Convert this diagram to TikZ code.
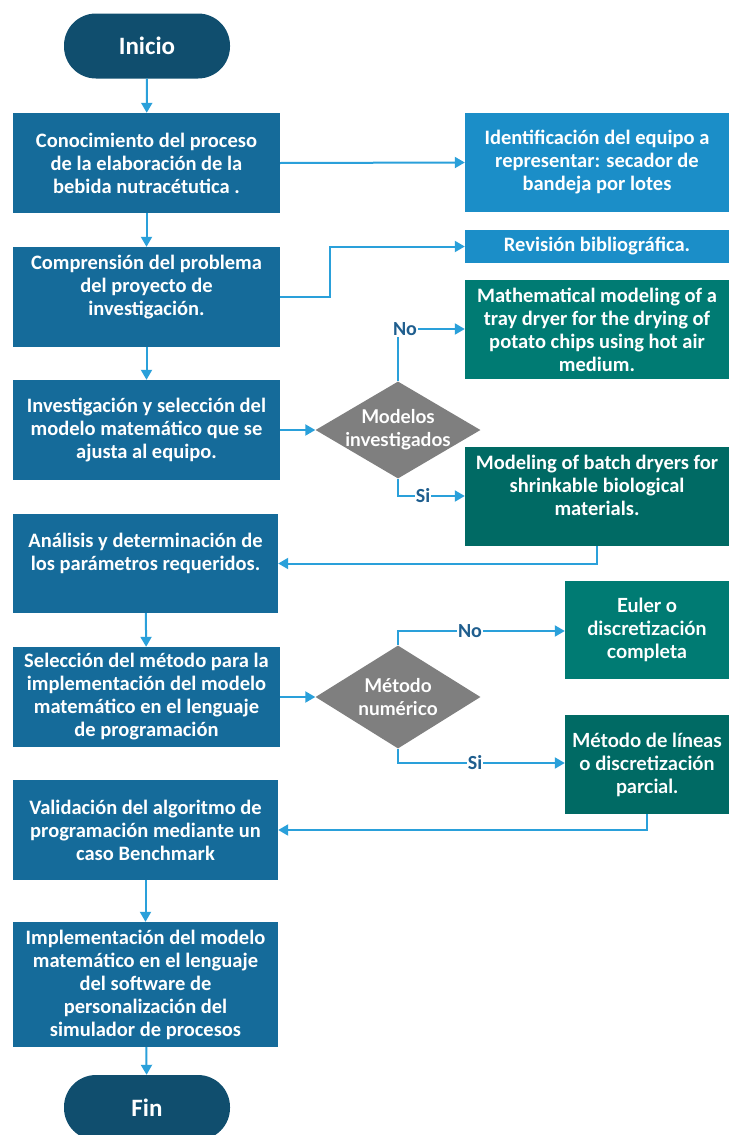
\documentclass[tikz,border=0pt]{standalone}
\usepackage{fontspec}
\setmainfont{Carlito}
\newfontfamily\segoe{Lato}
\usetikzlibrary{shapes.geometric,arrows.meta}
\definecolor{boxblue}{HTML}{156B9A}
\definecolor{endblue}{HTML}{104E6E}
\definecolor{lightblue}{HTML}{1B8EC8}
\definecolor{tealA}{HTML}{007B73}
\definecolor{tealB}{HTML}{006A64}
\definecolor{linkblue}{HTML}{2AA0DA}
\definecolor{lblblue}{HTML}{1F5E8E}
\definecolor{decgray}{HTML}{7F7F7F}
\newcommand{\zw}[1]{\makebox[0pt]{#1}}

\begin{document}
\begin{tikzpicture}[x=1pt, y=-1pt,
    term/.style={rectangle, rounded corners=32pt, fill=endblue, text=white,
      font=\bfseries\fontsize{25}{27}\selectfont, minimum width=166pt, minimum height=65pt, inner sep=0pt},
    proc/.style={rectangle, fill=boxblue, text=white, align=center,
      font=\bfseries\fontsize{20.5}{23}\selectfont, minimum width=267pt, minimum height=100pt, inner sep=0pt},
    side/.style={proc, minimum width=264pt, minimum height=99pt},
    decision/.style={diamond, aspect=1.7, fill=decgray, text=white, align=center,
      font=\segoe\bfseries\fontsize{19}{23}\selectfont, minimum width=165pt, minimum height=97pt, inner sep=0pt},
    answer/.style={text=lblblue, font=\bfseries\fontsize{20}{22}\selectfont, inner sep=1pt},
    line/.style={draw=linkblue, line width=2pt},
    link/.style={line, -{Triangle[length=10pt, width=11pt]}}]
    \useasboundingbox (0,0) rectangle (729,1135);

    \node (start) at (147, 46) [term] {Inicio};
    \node (conoc) at (146.5, 163) [proc] {Conocimiento del proceso\\de la elaboración de la\\bebida nutracétutica .};
    \node (ident) at (597, 162.5) [side, fill=lightblue] {Identificación del equipo a\\representar: secador de\\bandeja por lotes};
    \node (compr) at (146.5, 297) [proc] {Comprensión del problema\\del proyecto de\\investigación.\\\mbox{}};
    \node (revis) at (597, 246.5) [side, fill=lightblue, minimum height=33pt] {Revisión bibliográfica.};
    \node (matem) at (597, 329.5) [side, fill=tealA] {Mathematical modeling of a\\tray dryer for the drying of\\potato chips using hot air\\medium.};
    \node (invest) at (146.5, 430) [proc] {Investigación y selección del\\modelo matemático que se\\ajusta al equipo.};
    \node (modelos) at (398, 430) [decision] {\zw{Modelos}\\\zw{investigados}};
    \node (batch) at (597, 496.5) [side, fill=tealB] {Modeling of batch dryers for\\shrinkable biological\\materials.\\\mbox{}};
    \node (anal) at (145.5, 563.5) [proc, minimum width=265pt, minimum height=99pt] {Análisis y determinación de\\los parámetros requeridos.\\\mbox{}};
    \node (selec) at (146.5, 697) [proc] {Selección del método para la\\implementación del modelo\\matemático en el lenguaje\\de programación};
    \node (metodo) at (398, 697) [decision, minimum height=103pt] {\zw{Método}\\\zw{numérico}};
    \node (euler) at (647, 630) [side, fill=tealA, minimum width=164pt, minimum height=98pt, font=\segoe\bfseries\fontsize{19.5}{23}\selectfont] {Euler o\\discretización\\completa};
    \node (lineas) at (647, 764.5) [side, fill=tealB, minimum width=164pt, font=\segoe\bfseries\fontsize{19.5}{23}\selectfont] {Método de líneas\\o discretización\\parcial.};
    \node (valid) at (145.5, 830) [proc, minimum width=265pt] {Validación del algoritmo de\\programación mediante un\\caso Benchmark};
    \node (impl) at (145.5, 984.5) [proc, minimum width=265pt, minimum height=125pt] {Implementación del modelo\\matemático en el lenguaje\\del software de\\personalización del\\simulador de procesos};
    \node (fin) at (147, 1107.5) [term] {Fin};

    \node (no1) at (405, 329) [answer] {No};
    \node (si1) at (423, 496) [answer] {Si};
    \node (no2) at (470, 631) [answer] {No};
    \node (si2) at (475, 763) [answer] {Si};

    \draw [link] (start) -- (conoc);
    \draw [link] (conoc) -- (compr);
    \draw [link] (compr) -- (invest);
    \draw [link] (anal) -- (selec);
    \draw [link] (valid) -- (impl);
    \draw [link] (impl) -- (fin);

    \draw [link] (conoc.east) -- (ident.west);
    \draw [link] (compr.east) -- ++(50,0) |- (revis.west);
    \draw [link] (invest.east) -- (modelos.west);
    \draw [line] (modelos.north) -- (modelos.north |- no1.south);
    \draw [link] (no1.east) -- (no1.east -| matem.west);
    \draw [line] (modelos.south) |- (si1.west);
    \draw [link] (si1.east) -- (si1.east -| batch.west);
    \draw [link] (batch.south) |- (anal.east);

    \draw [link] (selec.east) -- (metodo.west);
    \draw [line] (metodo.north) |- (no2.west);
    \draw [link] (no2.east) -- (no2.east -| euler.west);
    \draw [line] (metodo.south) |- (si2.west);
    \draw [link] (si2.east) -- (si2.east -| lineas.west);
    \draw [link] (lineas.south) |- (valid.east);
\end{tikzpicture}
\end{document}
